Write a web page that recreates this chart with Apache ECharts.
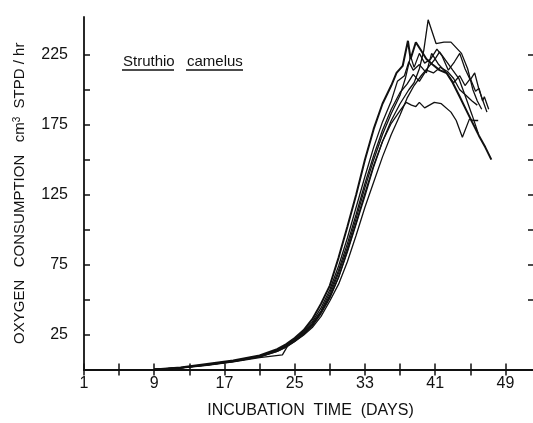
<!DOCTYPE html>
<html><head><meta charset="utf-8">
<script src="https://cdn.jsdelivr.net/npm/echarts@6/dist/echarts.min.js"></script>
<style>html,body{margin:0;padding:0;background:#fff}#c{width:533px;height:423px}</style>
</head><body><div id="c"></div>
<script>
const xTicks = [1,5,9,13,17,21,25,29,33,37,41,45,49];
const xTickLabels = [1,9,17,25,33,41,49];
const yTicks = [25,50,75,100,125,150,175,200,225];
const yTickLabels = [25,75,125,175,225];
const rightTicks = [50,75,100,125,150,175,200,225];

const daysC1 = [9,12,15,18,21,23,24,25,26,27,28,29,30,31,32,33,34,35,36,37,38,38.6,39.2,39.7,40.2,41.1,42,42.8,44,44.7,45.3,45.8,46.3];
const o2C1 = [0,1.2,3.3,5.8,9,13,16,20,25,31,40,51,66,84,104,124,145,163,178,190,200,205,215,228,250,233,234,234,226,215,200,192,186];
const daysC2 = [9,12,15,18,21,23,24,25,26,27,28,29,30,31,32,33,34,35,36,36.6,37.3,37.9,38.2,38.8,39.4,40,40.7,41.5,42.3,43,43.8,44.5,45.2,46,46.7,47.4];
const o2C2 = [0,1.5,4,6.5,10,14.5,18,22.5,28,36,47,60,80,102,125,150,172,190,203,212,217,235,222,234,228,222,218,214,212,205,195,186,177,167,159,150];
const daysC3 = [9,12,15,18,21,23,24,25,26,27,28,29,30,31,32,33,34,35,36,36.7,37.5,38,38.5,39.2,40,40.6,41.4,42.3,43.1,43.8,44.4,45,45.6,46,46.4,46.6,47.1];
const o2C3 = [0,1.2,3.5,6,9.5,14,17,21.5,27,34,44,57,74,94,116,138,159,177,192,206,210,220,214,218,212,226,218,212,205,210,203,208,199,201,192,195,186];
const daysC4 = [9,12,15,18,21,23.6,24.4,25,26,27,28,29,30,31,32,33,34,35,36,37,37.7,38.3,38.8,39.2,39.8,40.9,41.7,42.8,43.4,44.1,44.9,45.4,45.9];
const o2C4 = [0,1,3,5.5,8.5,10.4,19,21,25.5,32,41,52,66,85,105,126,146,163,176,185,191,189,188,191,187,191,190,184,178,166,179,178,178];
const daysC5 = [9,12,15,18,21,23,24,25,26,27,28,29,30,31,32,33,34,35,36,37,37.8,38.5,39.2,40,40.8,41.6,42.4,43.1,43.8,44.5,45.2,45.8];
const o2C5 = [0,1.3,3.6,6.2,9.8,14,17,21,26,33,42,55,71,90,111,133,153,171,186,198,204,211,206,214,212,216,213,208,200,196,192,189];
const daysC6 = [9,12,15,18,21,23,24,25,26,27,28,29,30,31,32,33,34,35,36,37,37.8,38.6,39.4,40.2,41,41.5,42.2,43,43.7,44.4,45.2,45.9];
const o2C6 = [0,1.1,3.2,5.6,9,13,16,20,24.5,30,38,49,61,77,96,116,134,152,168,182,194,203,210,216,222,227,221,214,208,196,182,169];
const daysC7 = [9,12,15,18,21,23,24,25,26,27,28,29,30,31,32,33,34,35,36,37,37.6,38.2,38.6,39.2,39.8,40.5,41.2,41.8,42.5,43.2,43.8,44.4,45,45.5,46,46.5,46.9];
const o2C7 = [0,1.2,3.4,5.9,9.2,13.5,16.5,21,26,32,41,53,69,87,108,130,150,168,183,196,208,224,216,226,219,222,229,224,214,220,226,215,207,212,200,191,184];

const curves = [
  {days: daysC1, vals: o2C1, w: 1.3},
  {days: daysC2, vals: o2C2, w: 2},
  {days: daysC3, vals: o2C3, w: 1.3},
  {days: daysC4, vals: o2C4, w: 1.3},
  {days: daysC5, vals: o2C5, w: 1.3},
  {days: daysC6, vals: o2C6, w: 1.3},
  {days: daysC7, vals: o2C7, w: 1.3}
];

const ink = '#111';
const font = '"Liberation Sans", Arial, sans-serif';
const chart = echarts.init(document.getElementById('c'), null, {renderer: 'canvas'});
const axisLine = {show: true, lineStyle: {color: ink, width: 1.8}};
chart.setOption({
  animation: false,
  backgroundColor: '#fff',
  grid: {left: 84, right: -4, top: 17, bottom: 53.5, containLabel: false, outerBoundsMode: 'none'},
  xAxis: [{
    type: 'value', min: 1, max: 52.6, position: 'bottom',
    axisLine: axisLine, splitLine: {show: false},
    axisTick: {show: true, inside: true, length: 6, customValues: xTicks, lineStyle: {color: ink, width: 1.5}},
    axisLabel: {customValues: xTickLabels, color: ink, fontSize: 16, fontFamily: font, margin: 6},
    name: 'INCUBATION  TIME  (DAYS)', nameLocation: 'middle', nameGap: 33,
    nameTextStyle: {color: ink, fontSize: 16, fontFamily: font}
  }, {
    type: 'value', min: 1, max: 52.6, position: 'top',
    axisLine: axisLine, splitLine: {show: false},
    axisTick: {show: true, inside: true, length: 6, customValues: xTicks, lineStyle: {color: ink, width: 1.5}},
    axisLabel: {show: false}
  }],
  yAxis: [{
    type: 'value', min: 0, max: 252, position: 'left',
    axisLine: axisLine, splitLine: {show: false},
    axisTick: {show: true, inside: true, length: 6, customValues: yTicks, lineStyle: {color: ink, width: 1.5}},
    axisLabel: {customValues: yTickLabels, color: ink, fontSize: 16, fontFamily: font, margin: 16},
    name: 'OXYGEN   CONSUMPTION   cm{sup|3}  STPD / hr', nameLocation: 'middle', nameRotate: 90, nameGap: 56,
    nameTextStyle: {color: ink, fontSize: 15, fontFamily: font, rich: {sup: {fontSize: 10, verticalAlign: 'top', color: ink, fontFamily: font, padding: [0,0,6,0]}}}
  }, {
    type: 'value', min: 0, max: 252, position: 'right',
    axisLine: axisLine, splitLine: {show: false},
    axisTick: {show: true, inside: true, length: 9, customValues: rightTicks, lineStyle: {color: ink, width: 1.5}},
    axisLabel: {show: false}
  }],
  graphic: [
    {type: 'text', x: 123, y: 54, style: {text: 'Struthio', font: '15px ' + font, fill: ink}},
    {type: 'text', x: 187, y: 54, style: {text: 'camelus', font: '15px ' + font, fill: ink}},
    {type: 'line', shape: {x1: 122, y1: 70, x2: 174, y2: 70}, style: {stroke: ink, lineWidth: 1.5}},
    {type: 'line', shape: {x1: 186, y1: 70, x2: 243, y2: 70}, style: {stroke: ink, lineWidth: 1.5}}
  ],
  series: curves.map(c => ({
    type: 'line', xAxisIndex: 0, yAxisIndex: 0, symbol: 'none', silent: true,
    lineStyle: {color: ink, width: c.w},
    data: c.days.map((d, i) => [d, c.vals[i]])
  }))
});
</script>
</body></html>
